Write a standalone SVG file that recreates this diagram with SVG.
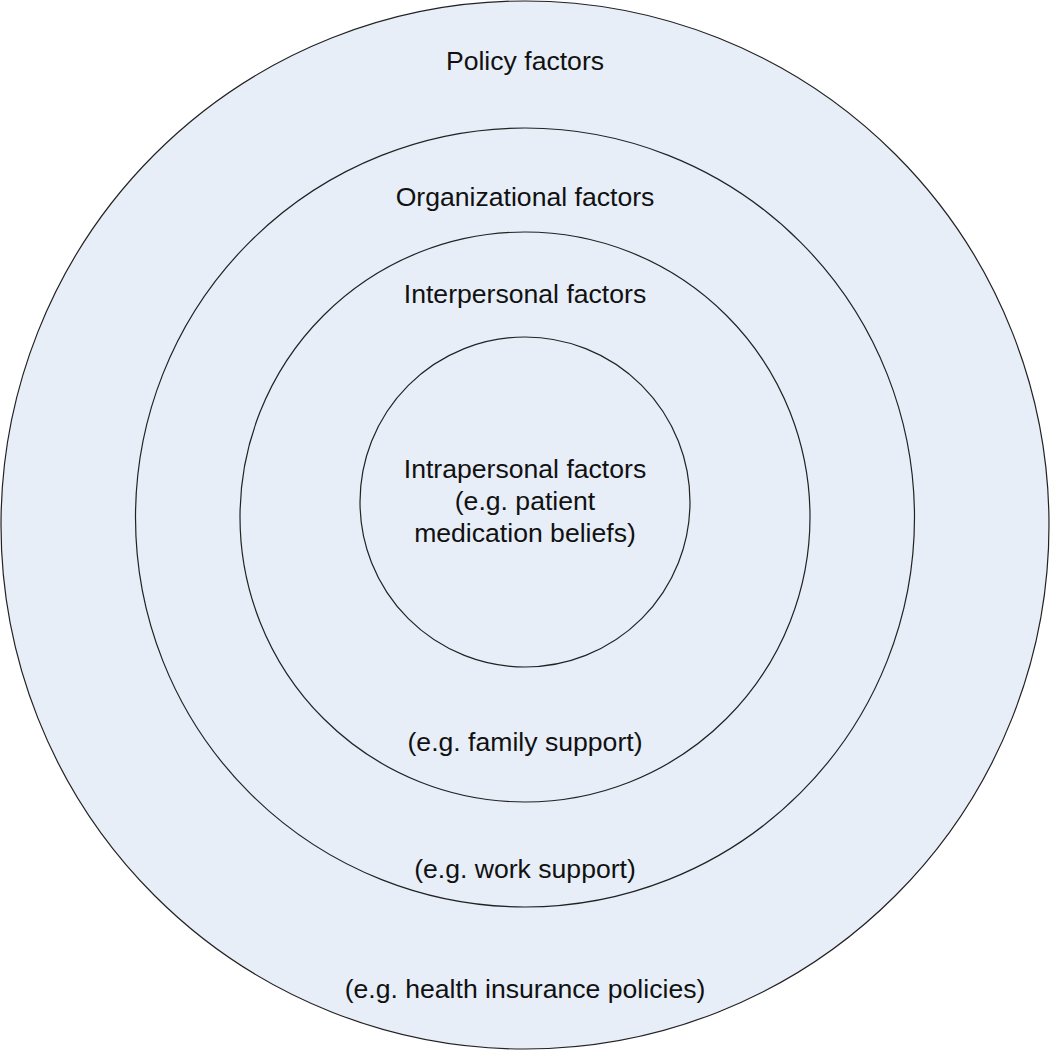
<svg xmlns="http://www.w3.org/2000/svg" width="1050" height="1050" viewBox="0 0 1050 1050">
<style>
.ring{fill:#e7eef8;stroke:#222;stroke-width:1.2}
text{font-family:"Liberation Sans",Arial,sans-serif;font-size:26.6px;fill:#111;text-anchor:middle}
</style>
<rect width="1050" height="1050" fill="#fff"/>
<g id="policy">
<circle class="ring" cx="525" cy="525" r="524"/>
<text x="525" y="70">Policy factors</text>
<text x="525" y="998">(e.g. health insurance policies)</text>
</g>
<g id="organizational">
<circle class="ring" cx="525" cy="517.5" r="389.5"/>
<text x="525" y="206">Organizational factors</text>
<text x="525" y="878">(e.g. work support)</text>
</g>
<g id="interpersonal">
<circle class="ring" cx="525" cy="517" r="285"/>
<text x="525" y="303">Interpersonal factors</text>
<text x="525" y="751">(e.g. family support)</text>
</g>
<g id="intrapersonal">
<circle class="ring" cx="525" cy="502" r="165"/>
<text x="525" y="478">Intrapersonal factors</text>
<text x="525" y="510">(e.g. patient</text>
<text x="525" y="542">medication beliefs)</text>
</g>
<g id="connectors"></g>
</svg>
